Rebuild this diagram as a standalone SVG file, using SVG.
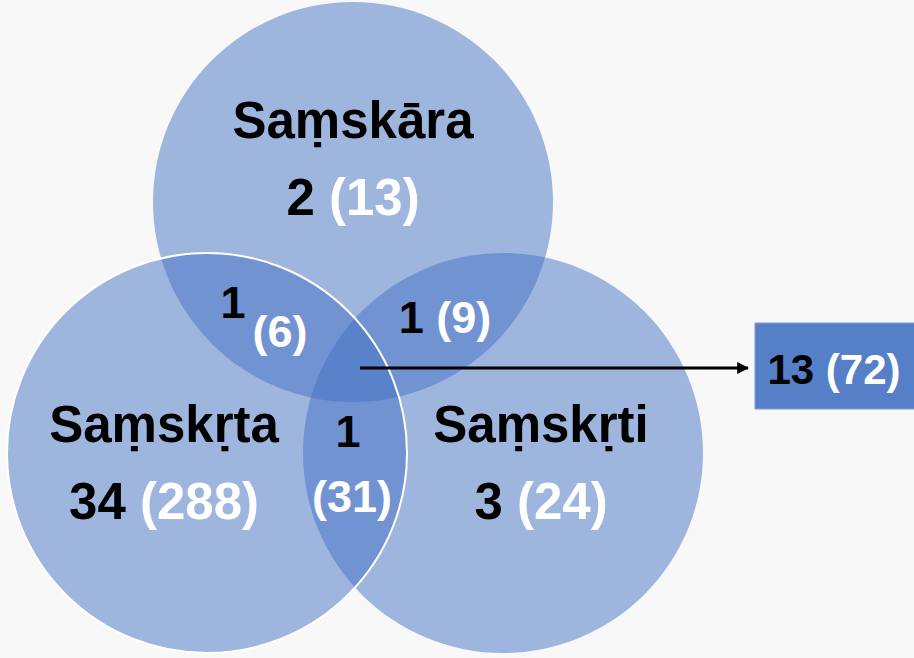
<svg xmlns="http://www.w3.org/2000/svg" width="914" height="658" viewBox="0 0 914 658">
<defs>
<style>
.c{fill:#4472C4;fill-opacity:0.5}
.t{font-family:"Liberation Sans",Arial,sans-serif;font-weight:bold;text-anchor:middle}
.lbl{font-size:51px;fill:#000}
.n{font-size:51px;fill:#000}
.s{font-size:45px;fill:#000}
.w{fill:#ffffff}
</style>
<marker id="ah" viewBox="0 0 10 10" refX="9" refY="5" markerWidth="4" markerHeight="4" orient="auto"><path d="M0,0 L10,5 L0,10 z" fill="#000"/></marker>
</defs>
<rect x="0" y="0" width="914" height="658" fill="#f8f8f8"/>
<g id="samskara">
<circle class="c" cx="353" cy="202" r="200"/>
</g>
<g id="samskrti">
<circle class="c" cx="503" cy="453" r="200"/>
</g>
<g id="samskrta">
<circle class="c" cx="207" cy="453" r="200" stroke="#ffffff" stroke-width="2"/>
</g>
<g id="connectors">
<line x1="360" y1="368" x2="748" y2="368" stroke="#000" stroke-width="3" marker-end="url(#ah)"/>
</g>
<g id="total">
<rect x="755" y="323" width="160" height="86" fill="#5580C8" stroke="#7d9bd4" stroke-width="1"/>
<text class="t s" x="834" y="384" style="font-size:42px">13 <tspan class="w">(72)</tspan></text>
</g>
<g id="labels">
<text class="t lbl" x="353" y="138">Saṃskāra</text>
<text class="t n" x="353" y="215">2 <tspan class="w">(13)</tspan></text>
<text class="t lbl" x="164" y="442">Saṃskṛta</text>
<text class="t n" x="164" y="519">34 <tspan class="w">(288)</tspan></text>
<text class="t lbl" x="541" y="442">Saṃskṛti</text>
<text class="t n" x="541" y="519">3 <tspan class="w">(24)</tspan></text>
<text class="t s" x="233" y="318">1</text>
<text class="t s w" x="280" y="347">(6)</text>
<text class="t s" x="445" y="333">1 <tspan class="w">(9)</tspan></text>
<text class="t s" x="348" y="447">1</text>
<text class="t s w" x="352" y="512">(31)</text>
</g>
</svg>
